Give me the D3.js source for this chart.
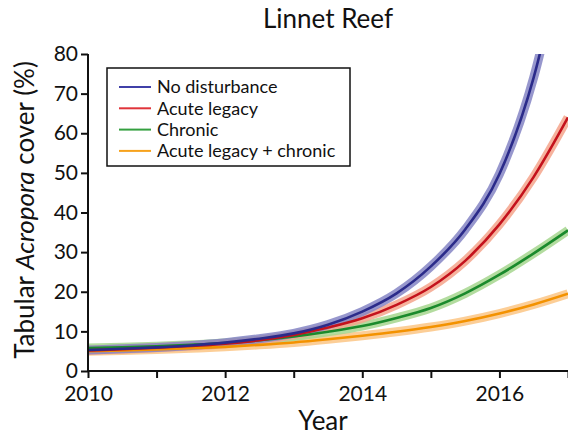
<!DOCTYPE html>
<html>
<head>
<meta charset="utf-8">
<script src="https://cdn.jsdelivr.net/npm/d3@7"></script>
<style>
  body { margin: 0; background: #fff; }
  text { font-family: Lato, "Open Sans", sans-serif; fill: #111; }
  .axis path, .axis line { stroke: #111; stroke-width: 2; }
</style>
</head>
<body>
<div id="d3-container"></div>
<script>
const width = 568,
  height = 436,
  margin = { top: 54, bottom: 65, left: 88, right: 0 };

// DATA
const years = [2010, 2010.5, 2011, 2011.5, 2012, 2012.5, 2013, 2013.5, 2014, 2014.5, 2015, 2015.5, 2016, 2016.5, 2017];
const noDisturbance = [5.3, 5.6, 5.95, 6.45, 7.15, 8.15, 9.5, 11.7, 15.0, 19.6, 26.4, 35.7, 49.7, 74.1, 112];
const acuteLegacy = [5.2, 5.5, 5.85, 6.3, 6.9, 7.75, 9.1, 10.95, 13.3, 16.7, 21.2, 27.8, 37.0, 49.0, 64.0];
const chronic = [5.8, 6.0, 6.25, 6.6, 7.05, 7.75, 8.7, 9.9, 11.35, 13.4, 15.9, 19.6, 24.3, 29.7, 35.5];
const acuteChronic = [5.0, 5.2, 5.45, 5.75, 6.1, 6.6, 7.2, 8.0, 8.9, 9.9, 11.1, 12.6, 14.5, 16.8, 19.5];

const seriesNames = ["No disturbance", "Acute legacy", "Chronic", "Acute legacy + chronic"];
const seriesValues = [noDisturbance, acuteLegacy, chronic, acuteChronic];
const lineColors = ["#2b2b8a", "#c4121c", "#1a8a2c", "#f39200"];
const bandColors = ["#8585c4", "#f5a48c", "#a6d68e", "#fcc685"];
const legendColors = ["#4040a8", "#e0343a", "#34a040", "#f7a21c"];

const yTicks = [0, 10, 20, 30, 40, 50, 60, 70, 80];
const xTicks = [2010, 2011, 2012, 2013, 2014, 2015, 2016, 2017];
const xLabels = [2010, 2012, 2014, 2016];

const xScale = d3.scaleLinear().domain([2010, 2017]).range([margin.left, width - margin.right]);
const yScale = d3.scaleLinear().domain([0, 80]).range([height - margin.bottom, margin.top]);

const svg = d3.select("#d3-container")
  .append("svg")
  .attr("width", width)
  .attr("height", height);

svg.append("clipPath")
  .attr("id", "plot-clip")
  .append("rect")
  .attr("x", margin.left)
  .attr("y", margin.top)
  .attr("width", width - margin.left - margin.right)
  .attr("height", height - margin.top - margin.bottom);

const line = d3.line()
  .x((d, i) => xScale(years[i]))
  .y(d => yScale(d))
  .curve(d3.curveMonotoneX);

const plot = svg.append("g").attr("clip-path", "url(#plot-clip)");

// bands first, back series to front
const order = [3, 2, 1, 0];
order.forEach(i => {
  plot.append("path")
    .attr("d", line(seriesValues[i]))
    .attr("fill", "none")
    .attr("stroke", bandColors[i])
    .attr("stroke-width", 9)
    .attr("opacity", 0.85);
});
order.forEach(i => {
  plot.append("path")
    .attr("d", line(seriesValues[i]))
    .attr("fill", "none")
    .attr("stroke", lineColors[i])
    .attr("stroke-width", 2.6);
});

// AXES
const xAxis = d3.axisBottom(xScale)
  .tickValues(xTicks)
  .tickSize(7)
  .tickPadding(8)
  .tickFormat(d => xLabels.includes(d) ? d : "");

const yAxis = d3.axisLeft(yScale)
  .tickValues(yTicks)
  .tickSize(7)
  .tickPadding(3);

svg.append("g")
  .attr("class", "axis x-axis")
  .attr("transform", `translate(0,${height - margin.bottom})`)
  .call(xAxis)
  .call(g => g.select(".domain").attr("d", `M${margin.left},0H${width}`))
  .selectAll("text")
  .attr("font-size", 21)
  .attr("fill", "#111");

svg.append("g")
  .attr("class", "axis y-axis")
  .attr("transform", `translate(${margin.left},0)`)
  .call(yAxis)
  .call(g => g.select(".domain").attr("d", `M0,${yScale(0)}V${yScale(80)}`))
  .selectAll("text")
  .attr("font-size", 21)
  .attr("fill", "#111");

// TITLES
svg.append("text")
  .attr("x", 328)
  .attr("y", 28)
  .attr("text-anchor", "middle")
  .attr("font-size", 26)
  .text("Linnet Reef");

svg.append("text")
  .attr("x", 323)
  .attr("y", 430)
  .attr("text-anchor", "middle")
  .attr("font-size", 26)
  .text("Year");

const yLabel = svg.append("text")
  .attr("transform", "translate(34,210) rotate(-90)")
  .attr("text-anchor", "middle")
  .attr("font-size", 26);
yLabel.append("tspan").text("Tabular ");
yLabel.append("tspan").attr("font-style", "italic").text("Acropora");
yLabel.append("tspan").text(" cover (%)");

// LEGEND
const legend = svg.append("g").attr("transform", "translate(107,68)");
legend.append("rect")
  .attr("width", 243)
  .attr("height", 98)
  .attr("fill", "#fff")
  .attr("stroke", "#111")
  .attr("stroke-width", 1.5);

const item = legend.selectAll(".item")
  .data(seriesNames)
  .join("g")
  .attr("class", "item")
  .attr("transform", (d, i) => `translate(0,${19 + i * 21.3})`);

item.append("line")
  .attr("x1", 12)
  .attr("x2", 44)
  .attr("stroke", (d, i) => legendColors[i])
  .attr("stroke-width", 2);

item.append("text")
  .attr("x", 50)
  .attr("dy", "0.35em")
  .attr("font-size", 18)
  .text(d => d);
</script>
</body>
</html>
